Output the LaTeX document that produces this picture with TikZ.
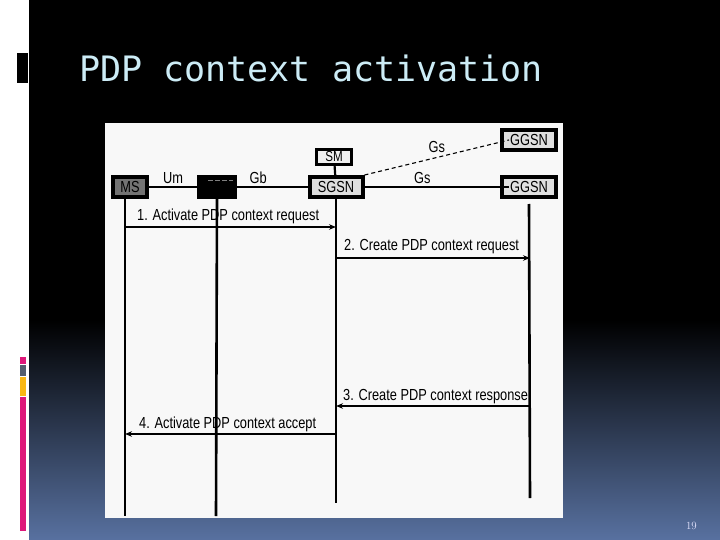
\documentclass[tikz,border=0pt]{standalone}
\usepackage{fontspec}
\usetikzlibrary{arrows.meta,positioning}
\newfontfamily\titlefont{DejaVu Sans Mono}
\newfontfamily\diagfont[FakeStretch=0.8]{Liberation Sans}
\definecolor{slideblue}{RGB}{88,113,160}
\definecolor{titlecyan}{RGB}{204,236,246}
\definecolor{paper}{RGB}{248,248,248}
\definecolor{barpink}{RGB}{222,24,122}
\definecolor{barslate}{RGB}{84,94,110}
\definecolor{baryellow}{RGB}{250,184,20}

\begin{document}
\begin{tikzpicture}[
    x=1pt, y=-1pt,
    every node/.style={font=\diagfont\fontsize{16}{18}\selectfont},
    ent/.style={draw, line width=4pt, inner sep=0pt, minimum height=20pt,
        font=\diagfont\fontsize{16}{18}\selectfont},
    life/.style={line width=2.6pt},
    link/.style={line width=2.2pt},
    msg/.style={line width=1.3pt, -{Stealth[length=7pt,width=5.5pt]}},
    msglabel/.style={inner sep=0pt, anchor=base west}
]
\useasboundingbox (0,0) rectangle (720,540);
% slide background
\fill[white] (0,0) rectangle (720,540);
\fill[black] (29,0) rectangle (720,320);
\shade[top color=black, bottom color=slideblue] (29,320) rectangle (720,540);
\fill[black] (17,53) rectangle (28,83);
\fill[barpink] (20,357) rectangle (26,364);
\fill[barslate] (20,365) rectangle (26,376);
\fill[baryellow] (20,377) rectangle (26,396);
\fill[barpink] (20,397) rectangle (26,531);
\node[font=\titlefont\fontsize{35}{40}\selectfont, text=titlecyan, inner sep=0pt,
    anchor=base west] (title) at (79,82) {PDP context activation};
\node[font=\fontsize{11}{13}\selectfont, text=white!90!blue, inner sep=0pt,
    anchor=base east] (pagenum) at (697,529) {19};

% diagram
\fill[paper] (105,123) rectangle (563,518);

\node[ent, fill=black!55, minimum width=34pt] (ms) at (130,187) {MS};
\node[ent, fill=black, minimum width=36pt] (bss) at (217,187) {};
\draw[gray, line width=0.6pt, dash pattern=on 5pt off 2pt] (208,180) -- (233,180);
\node[ent, fill=black!13, minimum width=53pt] (sgsn) at (336,187) {SGSN};
\node[ent, fill=black!6, line width=3.2pt, minimum width=35pt, minimum height=15pt,
    font=\diagfont\fontsize{14.5}{16}\selectfont] (sm) at (334,157) {SM};
\node[ent, fill=black!12, minimum width=54pt] (ggsn) at (529,187) {GGSN};
\node[ent, fill=black!12, minimum width=54pt] (ggsnb) at (529,140) {GGSN};

\draw[link] (ms) -- node[above=1pt, inner sep=1pt] (um) {Um} (bss);
\draw[link] (bss) -- node[above=1pt, inner sep=1pt, pos=0.3] (gb) {Gb} (sgsn);
\draw[link] (sgsn) -- node[above=1pt, inner sep=1pt, pos=0.4] (gs) {Gs} ([xshift=9pt]ggsn.west);
\draw[link] (sm) -- (sgsn);
\draw[line width=1.1pt, dash pattern=on 4pt off 3pt] (sgsn.north east)
    -- node[above, pos=0.5, inner sep=4pt] (gsb) {Gs} ([xshift=9pt]ggsnb.west);

% lifelines
\coordinate (msend) at (125,516);
\coordinate (bssend) at (216,516);
\coordinate (sgsnend) at (336,503);
\coordinate (ggsnend) at (530,498);
\draw[life] ([xshift=-5pt]ms.south) -- (msend);
\draw[life] (bss.south) -- (bssend);
\draw[life] (sgsn.south) -- (sgsnend);
\draw[life] ([yshift=-5pt]ggsn.south) -- (ggsnend);

% messages
\node[msglabel] (m1) at (137,221) {1. Activate PDP context request};
\draw[msg] (msend |- 0,227) -- (sgsnend |- 0,227);
\node[msglabel] (m2) at (344,251) {2. Create PDP context request};
\draw[msg] (sgsnend |- 0,258) -- (ggsnend |- 0,258);
\node[msglabel] (m3) at (343,400) {3. Create PDP context response};
\draw[msg] (ggsnend |- 0,406) -- (sgsnend |- 0,406);
\node[msglabel] (m4) at (139,428) {4. Activate PDP context accept};
\draw[msg] (sgsnend |- 0,434) -- (msend |- 0,434);
\end{tikzpicture}
\end{document}
